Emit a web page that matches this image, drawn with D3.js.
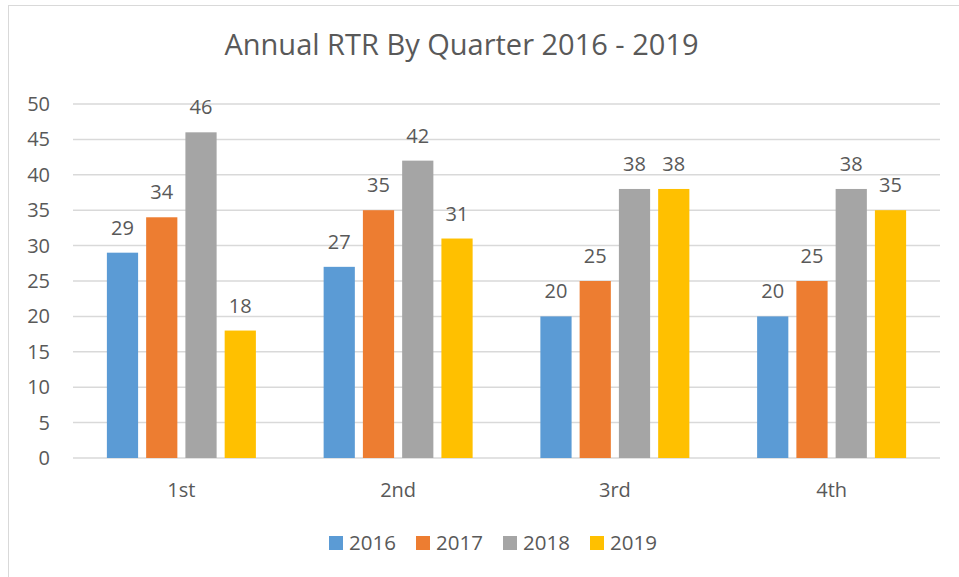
<!DOCTYPE html>
<html><head><meta charset="utf-8">
<script src="https://cdn.jsdelivr.net/npm/d3@7"></script>
<style>body{margin:0;background:#fff}svg{display:block}text{font-family:"Open Sans",sans-serif;fill:#595959}</style>
</head><body><svg id="c" width="959" height="577"></svg>
<script>
const title = "Annual RTR By Quarter 2016 - 2019";
const categories = ["1st","2nd","3rd","4th"];
const seriesNames = ["2016","2017","2018","2019"];
const v2016 = [29,27,20,20];
const v2017 = [34,35,25,25];
const v2018 = [46,42,38,38];
const v2019 = [18,31,38,35];
const yTicks = [0,5,10,15,20,25,30,35,40,45,50];
const colors = ["#5B9BD5","#ED7D31","#A5A5A5","#FFC000"];
const values = [v2016,v2017,v2018,v2019];

(function(){
const svg = d3.select("#c");
svg.append("rect").attr("x",8.5).attr("y",5.5).attr("width",1000).attr("height",1000)
  .attr("fill","none").attr("stroke","#d9d9d9").attr("stroke-width",1);

const pl=73, pr=940, pt=104, pb=458;
const x = d3.scaleBand().domain(categories).range([pl,pr]).paddingInner(0.3125).paddingOuter(0.1563);
const groupW = 149;
const xs = d3.scaleBand().domain(seriesNames).range([0,groupW]).paddingInner(0.205).paddingOuter(0);
const y = d3.scaleLinear().domain([0,50]).range([pb,pt]);

svg.append("g").selectAll("line").data(yTicks).join("line")
  .attr("x1",pl).attr("x2",pr).attr("y1",d=>y(d)).attr("y2",d=>y(d))
  .attr("stroke","#d9d9d9").attr("stroke-width",1.5);

const ya = svg.append("g").attr("transform",`translate(${pl},0)`)
  .call(d3.axisLeft(y).tickValues(yTicks).tickSize(0).tickPadding(23));
ya.select(".domain").remove();
ya.selectAll("text").attr("font-size",20).attr("fill","#595959").attr("font-family","Open Sans");

const xa = svg.append("g").attr("transform",`translate(0,${pb})`)
  .call(d3.axisBottom(x).tickSize(0).tickPadding(25));
xa.select(".domain").remove();
xa.selectAll("text").attr("font-size",20).attr("fill","#595959").attr("font-family","Open Sans");

const gcx = c => x(c) + x.bandwidth()/2 - groupW/2;
seriesNames.forEach((s,i)=>{
  const g = svg.append("g");
  g.selectAll("rect").data(categories).join("rect")
    .attr("x",c=>gcx(c)+xs(s)).attr("width",xs.bandwidth())
    .attr("y",(c,j)=>y(values[i][j])).attr("height",(c,j)=>pb-y(values[i][j]))
    .attr("fill",colors[i]);
  g.selectAll("text").data(categories).join("text")
    .attr("x",c=>gcx(c)+xs(s)+xs.bandwidth()/2)
    .attr("y",(c,j)=>y(values[i][j])-18)
    .attr("text-anchor","middle").attr("font-size",20).attr("fill","#404040")
    .text((c,j)=>values[i][j]);
});

svg.append("text").attr("x",461.5).attr("y",55).attr("text-anchor","middle")
  .attr("font-size",29).text(title);

const lg = svg.append("g");
seriesNames.forEach((s,i)=>{
  const lx = 329 + i*87;
  lg.append("rect").attr("x",lx).attr("y",536).attr("width",14).attr("height",14).attr("fill",colors[i]);
  lg.append("text").attr("x",lx+20).attr("y",550).attr("font-size",20.5).text(s);
});
})();
</script></body></html>
